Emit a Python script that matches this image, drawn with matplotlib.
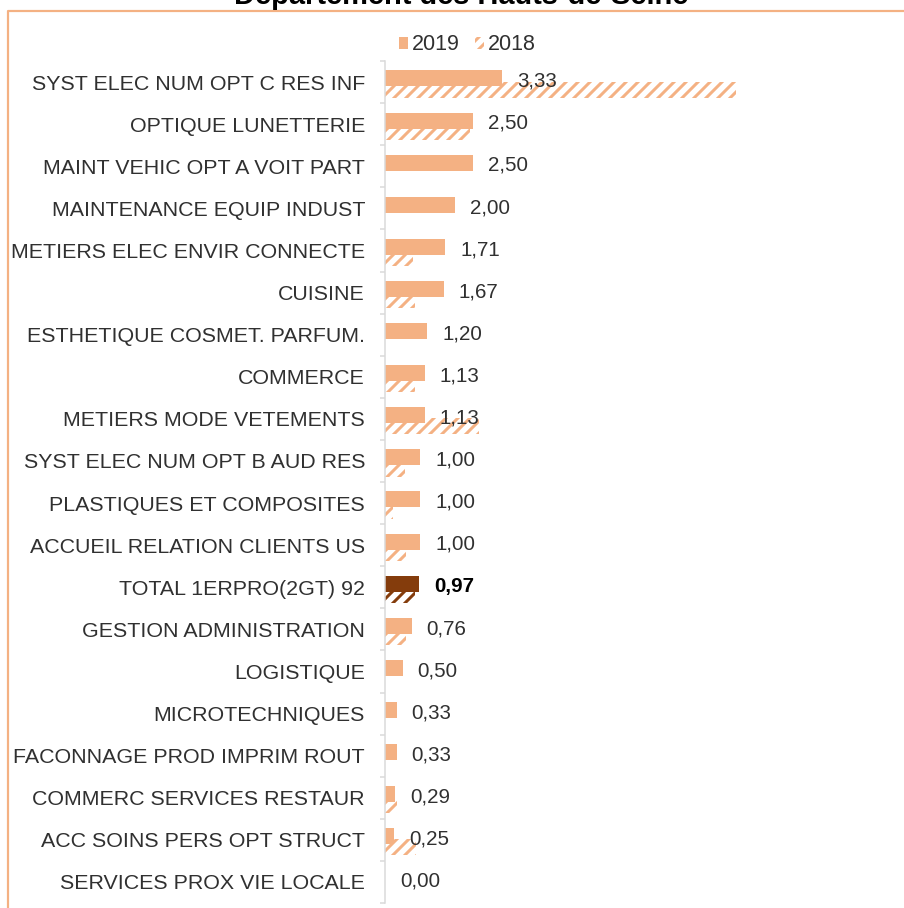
import numpy as np
import matplotlib
matplotlib.use("Agg")
import matplotlib.pyplot as plt
from matplotlib.patches import Patch
from matplotlib.lines import Line2D

# data
filieres = ["SYST ELEC NUM OPT C RES INF", "OPTIQUE LUNETTERIE", "MAINT VEHIC OPT A VOIT PART",
            "MAINTENANCE EQUIP INDUST", "METIERS ELEC ENVIR CONNECTE", "CUISINE",
            "ESTHETIQUE COSMET. PARFUM.", "COMMERCE", "METIERS MODE VETEMENTS",
            "SYST ELEC NUM OPT B AUD RES", "PLASTIQUES ET COMPOSITES", "ACCUEIL RELATION CLIENTS US",
            "TOTAL 1ERPRO(2GT) 92", "GESTION ADMINISTRATION", "LOGISTIQUE", "MICROTECHNIQUES",
            "FACONNAGE PROD IMPRIM ROUT", "COMMERC SERVICES RESTAUR", "ACC SOINS PERS OPT STRUCT",
            "SERVICES PROX VIE LOCALE"]
val_2019 = [3.33, 2.50, 2.50, 2.00, 1.71, 1.67, 1.20, 1.13, 1.13, 1.00, 1.00, 1.00,
            0.97, 0.76, 0.50, 0.33, 0.33, 0.29, 0.25, 0.00]
val_2018 = [10.0, 2.42, 0.0, 0.0, 0.80, 0.85, 0.0, 0.85, 2.68, 0.56, 0.23, 0.59,
            0.85, 0.61, 0.0, 0.0, 0.0, 0.33, 0.88, 0.0]
total_label = "TOTAL 1ERPRO(2GT) 92"

c_light = "#F4B183"
c_dark = "#843C0C"
txt = "#303030"

plt.rcParams['font.family'] = ['Liberation Sans', 'DejaVu Sans']
plt.rcParams['hatch.linewidth'] = 3.0

W, H = 904, 908
fig = plt.figure(figsize=(W / 72, H / 72), dpi=72)
ax = fig.add_axes([385 / W, (H - 903) / H, 14 * 35.1 / W, 842 / H])

y = np.arange(len(filieres))
cols = [c_dark if f == total_label else c_light for f in filieres]
h = 0.38

ax.barh(y + 0.18, val_2018, height=h, facecolor="white", edgecolor=cols, linewidth=0,
        hatch="//", zorder=1)
ax.barh(y - 0.085, val_2019, height=h, color=cols, linewidth=0, zorder=2)

for i, v in enumerate(val_2019):
    bold = filieres[i] == total_label
    ax.annotate(f"{v:.2f}".replace(".", ","), (v, i - 0.02), xytext=(15, 0),
                textcoords="offset points", ha="left", va="center", fontsize=20.5,
                color="black" if bold else txt, fontweight="bold" if bold else "normal",
                zorder=3)

ax.set_xlim(0, 14)
ax.set_ylim(len(filieres) - 0.5, -0.5)
ax.set_yticks(y)
ax.set_yticklabels(filieres, fontsize=21.4, color=txt)
ax.set_yticks(np.arange(len(filieres) + 1) - 0.5, minor=True)
ax.tick_params(axis="y", which="major", length=0, pad=20)
ax.tick_params(axis="y", which="minor", length=5, width=1.5, color="#d9d9d9")
ax.set_xticks([])
for s in ["top", "right", "bottom"]:
    ax.spines[s].set_visible(False)
ax.spines["left"].set_color("#d9d9d9")
ax.spines["left"].set_linewidth(1.5)

handles = [Patch(facecolor=c_light, linewidth=0),
           Patch(facecolor="white", edgecolor=c_light, linewidth=0, hatch="//")]
fig.legend(handles, ["2019", "2018"], loc="center", bbox_to_anchor=(467 / W, 1 - 45 / H),
           ncol=2, frameon=False, fontsize=21.5, handlelength=0.45, handleheight=0.45,
           handletextpad=0.15, columnspacing=0.7, labelcolor=txt)

# title cut off at the top, orange frame
fig.text(461 / W, 1 - 4 / H, "Département des Hauts-de-Seine", ha="center", va="baseline",
         fontsize=29, fontweight="bold", color="black")
fig.add_artist(Line2D([8 / W, 8 / W, 1.0], [0.0, 1 - 11 / H, 1 - 11 / H],
                      color="#F4B183", linewidth=2.2))

fig.savefig("out.png", dpi=72, facecolor="white")
